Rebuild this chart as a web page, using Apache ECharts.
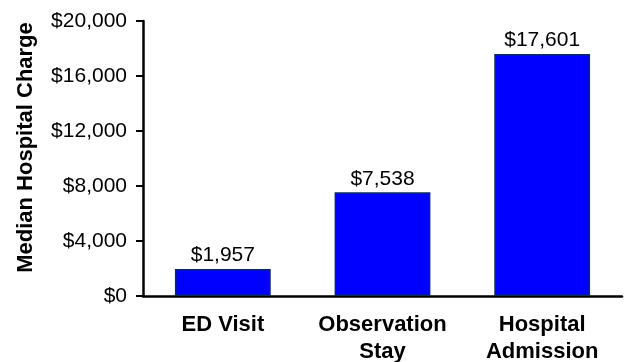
<!DOCTYPE html>
<html>
<head>
<meta charset="utf-8">
<script src="https://cdn.jsdelivr.net/npm/echarts@6/dist/echarts.min.js"></script>
<style>
	html, body { margin: 0; padding: 0; background: #fff; }
	#chart { width: 628px; height: 362px; }
</style>
</head>
<body>
<!-- chart container -->
<div id="chart"></div>
<script>
	// data
	var categories = ['ED Visit', 'Observation\nStay', 'Hospital\nAdmission']
	var charges = [1957, 7538, 17601]
	var yTicks = [0, 4000, 8000, 12000, 16000, 20000]

	function money(v) {
		return '$' + Math.round(v).toString().replace(/\B(?=(\d{3})+(?!\d))/g, ',')
	}

	var chart = echarts.init(document.getElementById('chart'))
	chart.setOption({
		animation: false,
		textStyle: { fontFamily: 'Liberation Sans, Arial, sans-serif', color: '#000' },
		// 固定绘图区，不让标签挤压网格
		grid: { left: 143, right: 6, top: 21, bottom: 66, outerBoundsMode: 'none' },
		xAxis: {
			type: 'category',
			data: categories,
			axisTick: { show: false },
			axisLine: { lineStyle: { color: '#000', width: 2.5 } },
			axisLabel: {
				color: '#000',
				fontWeight: 'bold',
				fontSize: 22,
				lineHeight: 27.5,
				margin: 15,
				interval: 0
			}
		},
		yAxis: {
			type: 'value',
			min: yTicks[0],
			max: yTicks[yTicks.length - 1],
			interval: yTicks[1] - yTicks[0],
			splitLine: { show: false },
			axisLine: { show: true, lineStyle: { color: '#000', width: 2.5 } },
			axisTick: { show: true, length: 7, lineStyle: { color: '#000', width: 2 } },
			axisLabel: { color: '#000', fontSize: 21, margin: 16, formatter: money },
			name: 'Median Hospital Charge',
			nameLocation: 'middle',
			nameGap: 106,
			nameTextStyle: { color: '#000', fontWeight: 'bold', fontSize: 22, padding: [0, 0, 0, 22] }
		},
		series: [{
			type: 'bar',
			data: charges,
			barWidth: '60%',
			itemStyle: { color: '#0000ff', borderColor: '#0b2a5c', borderWidth: 1.5 },
			label: {
				show: true,
				position: 'top',
				distance: 3,
				color: '#000',
				fontSize: 21,
				formatter: function (p) { return money(p.value) }
			}
		}]
	})
</script>
</body>
</html>
